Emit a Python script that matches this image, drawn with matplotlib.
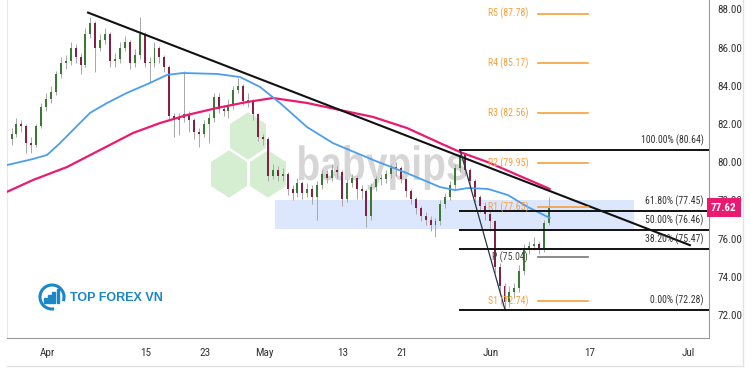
import numpy as np
import matplotlib
matplotlib.use("Agg")
import matplotlib.pyplot as plt
import matplotlib.font_manager as fm
from matplotlib.patches import Polygon, Rectangle, Arc, PathPatch
from matplotlib.textpath import TextPath
from matplotlib.transforms import Affine2D, blended_transform_factory

# 12-hour candles (day 0 = Apr 1, trading days)
closes = [81.5, 82.0, 81.9, 81.0, 80.9, 81.9, 82.9, 83.3, 83.7, 84.6,
          85.2, 85.3, 86.0, 85.5, 85.1, 86.7, 87.3, 86.0, 86.4, 86.7,
          85.3, 85.4, 86.0, 86.3, 85.2, 85.6, 86.7, 85.2, 85.2, 86.0,
          85.5, 85.0, 82.4, 82.2, 82.3, 82.5, 82.2, 81.6, 81.5, 82.0,
          82.3, 83.4, 82.8, 82.7, 83.0, 83.8, 84.0, 83.2, 83.2, 82.5,
          81.3, 81.2, 79.3, 79.6, 79.3, 79.4, 78.6, 78.4, 78.9, 78.4,
          78.6, 78.2, 78.8, 79.4, 79.2, 79.6, 79.5, 78.1, 78.9, 79.2,
          78.6, 78.5, 77.2, 78.7, 79.1, 79.1, 79.4, 79.7, 79.7, 79.1,
          78.5, 78.1, 77.6, 77.2, 77.0, 76.7, 76.9, 77.8, 78.2, 78.8,
          79.7, 80.4, 79.6, 79.0, 78.2, 77.7, 77.3, 76.9, 74.5, 73.5,
          72.7, 73.2, 73.4, 74.3, 75.4, 75.6, 75.7, 75.5, 76.8, 77.62]
highs = [81.8, 82.3, 82.2, 82.0, 81.3, 82.0, 83.1, 83.6, 84.0, 84.8,
         85.5, 85.6, 86.3, 86.2, 85.7, 87.0, 87.6, 87.4, 86.7, 87.0,
         86.8, 85.7, 86.3, 86.6, 86.4, 85.9, 87.6, 86.8, 85.5, 86.3,
         86.1, 85.6, 85.1, 82.6, 82.6, 84.8, 82.7, 82.3, 81.8, 82.2,
         82.6, 83.6, 83.6, 83.0, 83.3, 84.0, 84.4, 84.1, 83.6, 83.3,
         82.6, 81.5, 81.3, 79.9, 79.8, 79.7, 79.5, 78.8, 79.2, 79.0,
         78.9, 78.8, 79.0, 79.6, 79.6, 79.9, 79.8, 79.6, 79.1, 79.4,
         79.3, 78.8, 78.6, 78.9, 79.3, 79.4, 79.6, 79.9, 80.0, 79.8,
         79.2, 78.6, 78.2, 77.7, 77.4, 77.2, 77.1, 78.0, 78.4, 79.0,
         79.9, 80.6, 80.5, 79.7, 79.1, 78.3, 77.9, 77.5, 77.0, 74.7,
         73.7, 73.5, 73.7, 74.6, 75.7, 75.9, 76.1, 75.9, 77.0, 78.2]
lows = [80.9, 81.3, 81.6, 80.5, 80.5, 80.8, 81.8, 82.7, 83.1, 83.5,
        84.4, 84.9, 85.1, 85.2, 84.6, 85.0, 86.5, 84.7, 85.8, 86.2,
        85.0, 85.0, 85.2, 85.8, 84.9, 85.0, 85.4, 85.0, 84.2, 85.0,
        85.2, 84.7, 82.2, 81.3, 81.4, 82.1, 81.6, 81.2, 80.8, 81.3,
        81.0, 82.1, 82.6, 82.4, 82.3, 82.8, 83.6, 83.0, 82.9, 82.2,
        81.1, 80.9, 79.0, 79.1, 79.0, 79.0, 78.3, 78.0, 78.2, 78.1,
        78.2, 77.8, 77.0, 78.6, 78.9, 79.0, 79.2, 77.7, 77.9, 78.7,
        78.1, 78.1, 76.6, 77.0, 78.5, 78.8, 78.9, 79.2, 79.3, 78.9,
        78.2, 77.8, 77.3, 76.9, 76.7, 76.4, 76.1, 76.7, 77.6, 78.0,
        78.6, 79.5, 79.3, 78.7, 77.9, 77.4, 77.0, 76.4, 74.2, 73.2,
        72.3, 72.4, 72.9, 73.2, 74.1, 75.2, 75.4, 75.2, 75.3, 76.7]
first_open = 81.2
candle_start_day = -3.6
candle_step = 0.5

# moving averages (day, value)
blue_days = [-4.06, -2.74, -1.42, 0.0, 1.32, 2.64, 4.36, 6.09, 8.11, 10.45, 12.17, 13.79,
             17.24, 19.57, 21.6, 23.63, 26.37, 29.0, 33.06, 36.5, 39.86, 41.38, 42.7,
             44.73, 46.75, 48.78, 51.0]
blue_vals = [79.85, 80.01, 80.17, 80.38, 81.0, 81.69, 82.58, 83.1, 83.63, 84.15, 84.57, 84.67,
             84.62, 84.46, 83.94, 83.1, 81.84, 81.0, 80.12, 79.43, 78.7, 78.54, 78.65,
             78.6, 78.28, 77.65, 77.08]
pink_days = [-4.06, -1.42, 2.03, 5.38, 8.72, 11.46, 14.2, 17.24, 20.28, 22.92,
             26.37, 29.72, 33.06, 36.51, 39.86, 41.9, 44.93, 48.17, 51.0]
pink_vals = [78.45, 79.07, 79.75, 80.64, 81.53, 82.05, 82.47, 82.84, 83.15, 83.36,
             83.1, 82.73, 82.37, 81.79, 81.0, 80.53, 79.96, 79.23, 78.6]

trend_days = [4.16, 65.2]
trend_vals = [87.83, 75.66]
swing_days = [41.9, 46.45]
swing_vals = [80.64, 72.28]

fib_names = ["100.00%", "61.80%", "50.00%", "38.20%", "0.00%"]
fib_vals = [80.64, 77.45, 76.46, 75.47, 72.28]
fib_start = 41.9

pivot_names = ["R5", "R4", "R3", "R2", "R1", "P", "S1"]
pivot_vals = [87.78, 85.17, 82.56, 79.95, 77.65, 75.04, 72.74]
pivot_span = [49.8, 54.9]

zone_days = [23.1, 59.5]
zone_vals = [76.5, 78.0]

last_price = 77.62
tick_days = [0, 10, 16, 22, 30, 36, 45, 55, 65]
tick_labels = ["Apr", "15", "23", "May", "13", "21", "Jun", "17", "Jul"]
price_ticks = [72, 74, 76, 78, 80, 82, 84, 86, 88]

avail = {f.name for f in fm.fontManager.ttflist}


def pick(prefs, default="DejaVu Sans"):
    for p in prefs:
        if p in avail:
            return p
    return default


narrow = pick(["Roboto Condensed", "PT Sans Narrow", "Fira Sans Condensed",
               "Liberation Sans Narrow", "Archivo Narrow", "Open Sans Condensed",
               "Ubuntu Condensed", "Asap Condensed", "Encode Sans Condensed"],
              pick(["Liberation Sans"]))
plain = pick(["Liberation Sans", "Roboto"])

fig = plt.figure(figsize=(7.5, 3.75), dpi=100, facecolor="white")

# pixel-space overlay for watermarks / frame
bg = fig.add_axes([0, 0, 1, 1], zorder=0)
bg.set_xlim(0, 750)
bg.set_ylim(375, 0)
bg.axis("off")

hw, hh = 38, 50
for cx, cy in [(248, 136), (229, 174), (268, 174)]:
    pts = [(cx, cy - hh / 2), (cx + hw / 2, cy - hh / 4), (cx + hw / 2, cy + hh / 4),
           (cx, cy + hh / 2), (cx - hw / 2, cy + hh / 4), (cx - hw / 2, cy - hh / 4)]
    bg.add_patch(Polygon(pts, closed=True, fc="#d5edd1", ec="white", lw=1.5))

tp = TextPath((0, 0), "babypips", size=48, prop=fm.FontProperties(family=plain, weight="bold"))
ext = tp.get_extents()
sx = 167 / ext.width
tf = Affine2D().translate(-ext.x0, 0).scale(sx, -1).translate(299, 180) + bg.transData
bg.add_patch(PathPatch(tp, transform=tf, fc="#d6d6d6", ec="none"))

# top forex vn logo
bg.add_patch(Arc((52, 297), 24, 24, theta1=80, theta2=380, color="#1b87c8", lw=2.2))
for k, bh in enumerate([5, 8, 11, 14]):
    bg.add_patch(Rectangle((44 + k * 4.2, 303 - bh), 2.8, bh, color="#1b87c8"))
bg.text(70, 298, "TOP FOREX VN", fontsize=9, fontweight="bold", color="#1b87c8",
        family=plain, ha="left", va="center")

bg.plot([743, 743], [0, 366], color="#e3e3e3", lw=1)
bg.plot([7, 743], [366, 366], color="#e3e3e3", lw=1)

ax = fig.add_axes([7 / 750, 37 / 375, 702 / 750, 338 / 375], zorder=1)
ax.set_facecolor("none")
ax.set_xlim(-4.06, 67.14)
ax.set_ylim(70.80, 88.49)

# zone
ax.add_patch(Rectangle((zone_days[0], zone_vals[0]), zone_days[1] - zone_days[0],
                       zone_vals[1] - zone_vals[0], fc="#dce6fc", ec="none", zorder=1))

# candles
closes_a = np.array(closes)
opens_a = np.concatenate([[first_open], closes_a[:-1]])
xs = candle_start_day + candle_step * np.arange(len(closes))
up = closes_a >= opens_a
ax.vlines(xs, lows, highs, color="#a8a8a8", lw=0.7, zorder=2)
body_lo = np.minimum(opens_a, closes_a)
body_h = np.maximum(np.abs(closes_a - opens_a), 0.05)
ax.bar(xs[up], body_h[up], bottom=body_lo[up], width=0.2, color="#3a7a35", zorder=3)
ax.bar(xs[~up], body_h[~up], bottom=body_lo[~up], width=0.2, color="#861f44", zorder=3)

# moving averages
ax.plot(pink_days, pink_vals, color="#ea1a70", lw=1.6, zorder=4, solid_capstyle="round")
ax.plot(blue_days, blue_vals, color="#4a9ef0", lw=1.3, zorder=4, solid_capstyle="round")

# trend lines
ax.plot(trend_days, trend_vals, color="#111111", lw=1.5, zorder=5)
ax.plot(swing_days, swing_vals, color="#26324a", lw=0.9, zorder=5)

# fibonacci levels
for name, v in zip(fib_names, fib_vals):
    ax.plot([fib_start, 67.14], [v, v], color="#111111", lw=1.4, zorder=5)
    ax.text(66.6, v + 0.5, f"{name} ({v:.2f})", fontsize=7, color="#333333",
            family=narrow, ha="right", va="center", zorder=6)

# pivots
for name, v in zip(pivot_names, pivot_vals):
    col = "#777777" if name == "P" else "#f7a03c"
    txt = "#444444" if name == "P" else "#f7a03c"
    ax.plot(pivot_span, [v, v], color=col, lw=1.2, zorder=5)
    ax.text(pivot_span[0] - 1.0, v, f"{name} ({v:.2f})", fontsize=7, color=txt,
            family=narrow, ha="right", va="center", zorder=6)

# axes styling
ax.yaxis.tick_right()
ax.set_yticks(price_ticks)
ax.set_yticklabels([f"{v:.2f}" for v in price_ticks], family=narrow)
ax.set_xticks(tick_days)
ax.set_xticklabels(tick_labels, family=narrow)
ax.tick_params(axis="y", length=0, pad=6, labelsize=8, colors="#333333")
ax.tick_params(axis="x", length=0, pad=7, labelsize=8, colors="#333333")
ax.spines["top"].set_visible(False)
ax.spines["left"].set_color("#e8e8e8")
ax.spines["right"].set_color("#9a9a9a")
ax.spines["bottom"].set_color("#9a9a9a")
for s in ("left", "right", "bottom"):
    ax.spines[s].set_linewidth(0.8)

tr = blended_transform_factory(ax.transAxes, ax.transData)
ax.text(1.003, last_price, f"{last_price:.2f}", transform=tr, fontsize=8,
        fontweight="bold", color="white", family=narrow, ha="left", va="center",
        bbox=dict(boxstyle="square,pad=0.4", fc="#ea1a70", ec="none"), zorder=7,
        clip_on=False)

fig.savefig("out.png", dpi=100, facecolor="white")
